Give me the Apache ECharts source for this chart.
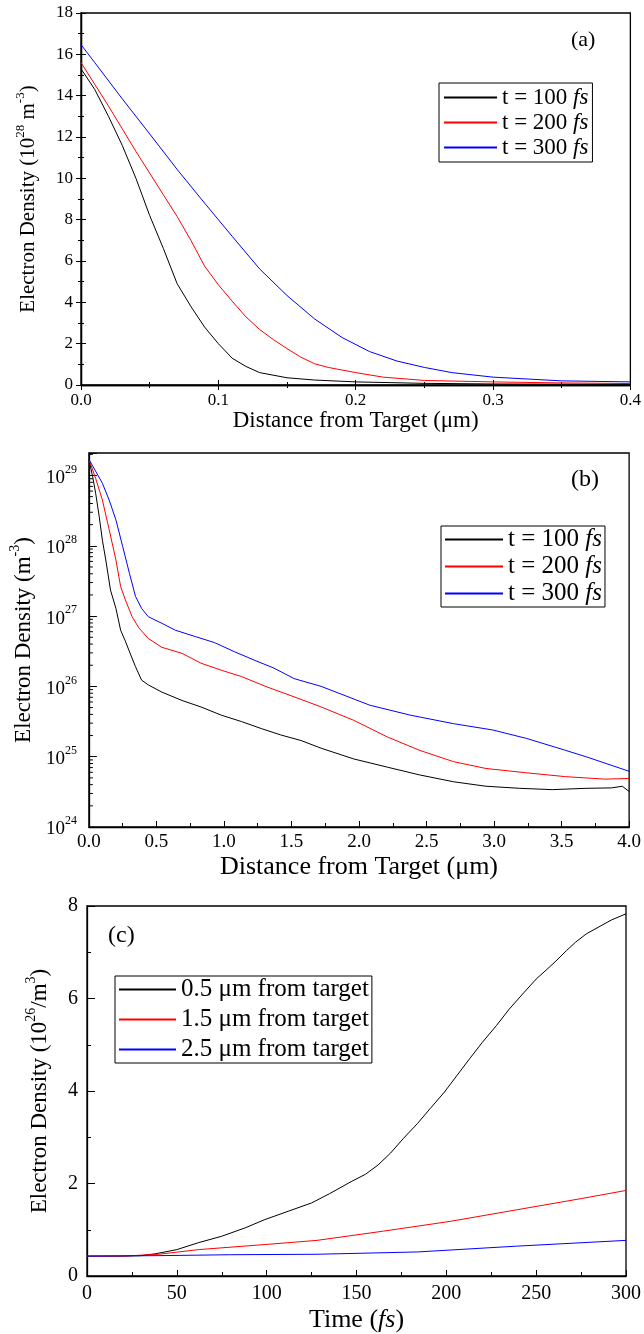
<!DOCTYPE html>
<html>
<head>
<meta charset="utf-8">
<script src="https://cdn.jsdelivr.net/npm/echarts@6/dist/echarts.min.js"></script>
<style>
html,body{margin:0;padding:0;background:#fff;}
#chart{width:644px;height:1334px;}
</style>
</head>
<body>
<div id="chart"></div>
<script>
// ---------- Panel (a) data : Distance (um) vs density (1e28 m^-3) ----------
const aX100 = [0,0.01,0.02,0.03,0.04,0.05,0.06,0.07,0.08,0.09,0.10,0.11,0.12,0.13,0.15,0.17,0.20,0.25,0.30,0.40];
const aY100 = [15.3,14.3,13.0,11.6,10.0,8.2,6.6,4.9,3.8,2.8,2.0,1.3,0.9,0.6,0.35,0.24,0.15,0.08,0.05,0.03];
const aX200 = [0,0.01,0.02,0.03,0.04,0.05,0.06,0.07,0.08,0.09,0.10,0.11,0.12,0.13,0.14,0.15,0.16,0.17,0.18,0.20,0.22,0.25,0.30,0.35,0.40];
const aY200 = [15.6,14.55,13.5,12.4,11.3,10.25,9.2,8.15,7.0,5.75,4.85,4.06,3.3,2.69,2.2,1.76,1.35,1.03,0.85,0.6,0.38,0.22,0.15,0.1,0.07];
const aX300 = [0,0.01,0.03,0.05,0.07,0.09,0.11,0.13,0.15,0.17,0.19,0.21,0.23,0.25,0.27,0.30,0.35,0.40];
const aY300 = [16.47,15.6,13.85,12.15,10.43,8.8,7.2,5.62,4.33,3.2,2.3,1.62,1.16,0.85,0.6,0.38,0.2,0.15];

// ---------- Panel (b) data : Distance (um) vs density (m^-3), log ----------
const bX100 = [0,0.027,0.05,0.076,0.1,0.125,0.16,0.2,0.235,0.27,0.31,0.345,0.39,0.44,0.54,0.69,0.83,0.98,1.13,1.28,1.42,1.57,1.72,1.96,2.21,2.45,2.70,2.94,3.19,3.43,3.68,3.87,3.95,4.0];
const bY100 = [1.7e29,9.8e28,5.6e28,2.63e28,1.2e28,6.3e27,2.34e27,1.29e27,6.3e26,4.4e26,2.8e26,1.91e26,1.23e26,1.05e26,8.3e25,6.3e25,5.1e25,3.9e25,3.16e25,2.5e25,2.04e25,1.7e25,1.32e25,9.3e24,7.1e24,5.5e24,4.4e24,3.8e24,3.55e24,3.4e24,3.55e24,3.6e24,3.8e24,3.2e24];
const bX200 = [0,0.05,0.1,0.15,0.2,0.235,0.27,0.32,0.37,0.44,0.54,0.69,0.83,0.98,1.13,1.32,1.52,1.72,1.96,2.21,2.45,2.70,2.94,3.24,3.53,3.82,4.0];
const bY200 = [1.7e29,9.1e28,4.47e28,1.7e28,6.3e27,2.63e27,1.7e27,9.8e26,6.8e26,4.8e26,3.6e26,2.95e26,2.14e26,1.7e26,1.38e26,9.8e25,7.1e25,5.1e25,3.3e25,1.91e25,1.23e25,8.5e24,6.8e24,5.9e24,5.2e24,4.8e24,4.9e24];
const bX300 = [0,0.1,0.15,0.2,0.25,0.3,0.345,0.39,0.44,0.54,0.64,0.79,0.93,1.08,1.23,1.37,1.52,1.72,2.08,2.38,2.70,2.99,3.24,3.53,3.68,4.0];
const bY300 = [1.7e29,7.76e28,4.47e28,2.34e28,9.8e27,4.07e27,1.91e27,1.29e27,9.8e26,7.9e26,6.3e26,5.1e26,4.2e26,3.1e26,2.34e26,1.82e26,1.29e26,1.0e26,5.4e25,3.9e25,2.95e25,2.4e25,1.82e25,1.23e25,1.0e25,6.2e24];
const bDecades = [24,25,26,27,28,29];
const bMinorMantissa = [2,3,4,5,6,7,8,9];

// ---------- Panel (c) data : Time (fs) vs density (1e26 m^-3) ----------
const cX05 = [0,20,30,38,50,62,75,88,99,112,125,135,147,155,162,169,176,184,191,199,206,213,220,228,235,243,250,256,261,267,272,278,285,292,300];
const cY05 = [0.43,0.43,0.44,0.48,0.57,0.72,0.86,1.04,1.22,1.40,1.58,1.78,2.04,2.20,2.40,2.66,2.97,3.30,3.62,3.98,4.34,4.70,5.05,5.42,5.77,6.12,6.42,6.63,6.81,7.04,7.22,7.40,7.55,7.70,7.83];
const cX15 = [0,20,40,62,99,128,165,202,239,276,300];
const cY15 = [0.43,0.43,0.47,0.57,0.68,0.77,0.97,1.18,1.43,1.68,1.85];
const cX25 = [0,40,80,128,184,239,300];
const cY25 = [0.43,0.44,0.46,0.47,0.52,0.645,0.77];

const legendAB = ['t = 100 ', 't = 200 ', 't = 300 '];
const legendC = ['0.5 \u03bcm from target', '1.5 \u03bcm from target', '2.5 \u03bcm from target'];

const FONT = "'Liberation Serif','Times New Roman',serif";
const BLACK = '#000000', RED = '#ff0000', BLUE = '#0000ff';

function pairs(xs, ys){ return xs.map((x,i)=>[x, ys[i]]); }

function lineSeries(name, xs, ys, color, idx){
  return {name:name, type:'line', xAxisIndex:idx, yAxisIndex:idx, data:pairs(xs,ys),
    symbol:'none', showSymbol:false, smooth:false, silent:true,
    lineStyle:{color:color, width:1}, itemStyle:{color:color}, animation:false, z:3};
}

const axisLine = {show:true, lineStyle:{color:'#000', width:1.3}};
function tick(len){ return {show:true, inside:true, length:len, lineStyle:{color:'#000', width:1}}; }
function minor(len){ return {show:true, splitNumber:2, length:len, lineStyle:{color:'#000', width:1}}; }
function tickLabel(size, margin, fmt){ return {show:true, color:'#000', fontFamily:FONT, fontSize:size, margin:margin, formatter:fmt}; }
function supRich(base, sup){
  return {
    t:{fontFamily:FONT, fontSize:base, color:'#000', lineHeight:base+4, verticalAlign:'bottom'},
    i:{fontFamily:FONT, fontSize:base, color:'#000', fontStyle:'italic', lineHeight:base+4, verticalAlign:'bottom'},
    s:{fontFamily:FONT, fontSize:sup, color:'#000', lineHeight:sup, verticalAlign:'top'}
  };
}

// minor log ticks for panel (b)
const bMinorTicks = [];
bDecades.forEach(d => bMinorMantissa.forEach(m => { const v = m * Math.pow(10, d); if (v <= 2.09e29) bMinorTicks.push([0, v]); }));

const legendNames = {a1:legendAB[0], a2:legendAB[1], a3:legendAB[2], b1:legendAB[0], b2:legendAB[1], b3:legendAB[2], c1:legendC[0], c2:legendC[1], c3:legendC[2]};

function legendFmtFs(n){ return '{n|' + legendNames[n] + '}{i|fs}'; }
function legendFmtC(n){ return '{n|' + legendNames[n] + '}'; }
function legendRich(size, lh){
  return {n:{fontFamily:FONT, fontSize:size, color:'#000', lineHeight:lh},
          i:{fontFamily:FONT, fontSize:size, fontStyle:'italic', color:'#000', lineHeight:lh}};
}

const option = {
  backgroundColor:'#fff',
  animation:false,
  grid:[
    {left:81, top:13, width:552, height:372, show:true, borderColor:'#000', borderWidth:1.3, backgroundColor:'transparent'},
    {left:86, top:453, width:545, height:374, show:true, borderColor:'#000', borderWidth:1.3, backgroundColor:'transparent'},
    {left:87, top:906, width:544, height:372, show:true, borderColor:'#000', borderWidth:1.3, backgroundColor:'transparent'}
  ],
  xAxis:[
    {type:'value', gridIndex:0, min:0, max:0.4, interval:0.1, position:'bottom',
     axisLine:axisLine, axisTick:tick(5), minorTick:minor(3), splitLine:{show:false},
     axisLabel:tickLabel(17, 7, v=>v.toFixed(1)),
     name:'Distance from Target (\u03bcm)', nameLocation:'middle', nameGap:24,
     nameTextStyle:{fontFamily:FONT, fontSize:23, color:'#000'}},
    {type:'value', gridIndex:0, min:0, max:0.4, interval:0.1, position:'top',
     axisLine:axisLine, axisTick:tick(5), minorTick:minor(3), splitLine:{show:false}, axisLabel:{show:false}},
    {type:'value', gridIndex:1, min:0, max:4, interval:0.5,
     axisLine:axisLine, axisTick:tick(6), minorTick:minor(4), splitLine:{show:false},
     axisLabel:tickLabel(19, 6, v=>v.toFixed(1)),
     name:'Distance from Target (\u03bcm)', nameLocation:'middle', nameGap:27,
     nameTextStyle:{fontFamily:FONT, fontSize:26, color:'#000'}},
    {type:'value', gridIndex:2, min:0, max:300, interval:50,
     axisLine:axisLine, axisTick:tick(6), minorTick:minor(4), splitLine:{show:false},
     axisLabel:tickLabel(20, 8, v=>String(v)),
     name:'{t|Time (}{i|fs}{t|)}', nameLocation:'middle', nameGap:27,
     nameTextStyle:{fontFamily:FONT, fontSize:26, color:'#000', rich:supRich(26,16)}}
  ],
  yAxis:[
    {type:'value', gridIndex:0, min:0, max:18, interval:2, position:'left',
     axisLine:axisLine, axisTick:tick(5), minorTick:minor(3), splitLine:{show:false},
     axisLabel:tickLabel(17, 8, v=>String(v)),
     name:'{t|Electron Density (10}{s|28}{t| m}{s|-3}{t|)}', nameLocation:'middle', nameGap:42, nameRotate:90,
     nameTextStyle:{fontFamily:FONT, fontSize:21, color:'#000', rich:supRich(21,13)}},
    {type:'value', gridIndex:0, min:0, max:18, interval:2, position:'right',
     axisLine:axisLine, axisTick:tick(5), minorTick:minor(3), splitLine:{show:false}, axisLabel:{show:false}},
    {type:'log', logBase:10, gridIndex:1, min:1e24, max:2.09e29, splitNumber:6,
     axisLine:axisLine, axisTick:tick(8), splitLine:{show:false},
     axisLabel:{show:true, margin:12, fontFamily:FONT, fontSize:19, color:'#000',
       formatter:function(v){ const e = Math.log10(v); const r = Math.round(e); if (Math.abs(e-r) > 1e-6) return ''; return '{b|10}{s|' + r + '}'; },
       rich:{b:{fontFamily:FONT, fontSize:19, color:'#000', lineHeight:24, verticalAlign:'bottom'},
             s:{fontFamily:FONT, fontSize:12, color:'#000', lineHeight:12, verticalAlign:'top'}}},
     name:'{t|Electron Density (m}{s|-3}{t|)}', nameLocation:'middle', nameGap:50, nameRotate:90,
     nameTextStyle:{fontFamily:FONT, fontSize:23, color:'#000', rich:supRich(23,14)}},
    {type:'value', gridIndex:2, min:0, max:8, interval:2,
     axisLine:axisLine, axisTick:tick(8), minorTick:minor(4), splitLine:{show:false},
     axisLabel:tickLabel(20, 9, v=>String(v)),
     name:'{t|Electron Density (10}{s|26}{t|/m}{s|3}{t|)}', nameLocation:'middle', nameGap:36, nameRotate:90,
     nameTextStyle:{fontFamily:FONT, fontSize:23, color:'#000', rich:supRich(23,14)}}
  ],
  legend:[
    {data:['a1','a2','a3'], orient:'vertical', left:439, top:83, padding:[3,4,3,4], itemWidth:53, itemHeight:14, itemGap:2,
     borderColor:'#000', borderWidth:1, backgroundColor:'#fff', selectedMode:false, formatter:legendFmtFs,
     itemStyle:{opacity:0},
     textStyle:{fontFamily:FONT, fontSize:23, color:'#000', rich:legendRich(23,24)}},
    {data:['b1','b2','b3'], orient:'vertical', left:441, top:526, padding:[1,3,1,3], itemWidth:58, itemHeight:14, itemGap:2,
     borderColor:'#000', borderWidth:1, backgroundColor:'#fff', selectedMode:false, formatter:legendFmtFs,
     itemStyle:{opacity:0},
     textStyle:{fontFamily:FONT, fontSize:25, color:'#000', rich:legendRich(25,26)}},
    {data:['c1','c2','c3'], orient:'vertical', left:115, top:976, padding:[1,3,1,3], itemWidth:57, itemHeight:14, itemGap:5,
     borderColor:'#000', borderWidth:1, backgroundColor:'#fff', selectedMode:false, formatter:legendFmtC,
     itemStyle:{opacity:0},
     textStyle:{fontFamily:FONT, fontSize:25, color:'#000', rich:legendRich(25,26)}}
  ],
  graphic:[
    {type:'text', left:571, top:29, style:{text:'(a)', font:'22px ' + FONT, fill:'#000'}},
    {type:'text', left:571, top:468, style:{text:'(b)', font:'24px ' + FONT, fill:'#000'}},
    {type:'text', left:108, top:924, style:{text:'(c)', font:'24px ' + FONT, fill:'#000'}}
  ],
  series:[
    lineSeries('a1', aX100, aY100, BLACK, 0),
    lineSeries('a2', aX200, aY200, RED, 0),
    lineSeries('a3', aX300, aY300, BLUE, 0),
    lineSeries('b1', bX100, bY100, BLACK, 2),
    lineSeries('b2', bX200, bY200, RED, 2),
    lineSeries('b3', bX300, bY300, BLUE, 2),
    lineSeries('c1', cX05, cY05, BLACK, 3),
    lineSeries('c2', cX15, cY15, RED, 3),
    lineSeries('c3', cX25, cY25, BLUE, 3),
    {type:'custom', name:'logMinor', xAxisIndex:2, yAxisIndex:2, data:bMinorTicks, silent:true, clip:false,
     renderItem:function(params, api){
       const p = api.coord([0, api.value(1)]);
       return {type:'line', shape:{x1:p[0], y1:p[1], x2:p[0]+4, y2:p[1]}, style:{stroke:'#000', lineWidth:1}};
     }}
  ]
};

const chart = echarts.init(document.getElementById('chart'), null, {renderer:'canvas'});
chart.setOption(option);
</script>
</body>
</html>
